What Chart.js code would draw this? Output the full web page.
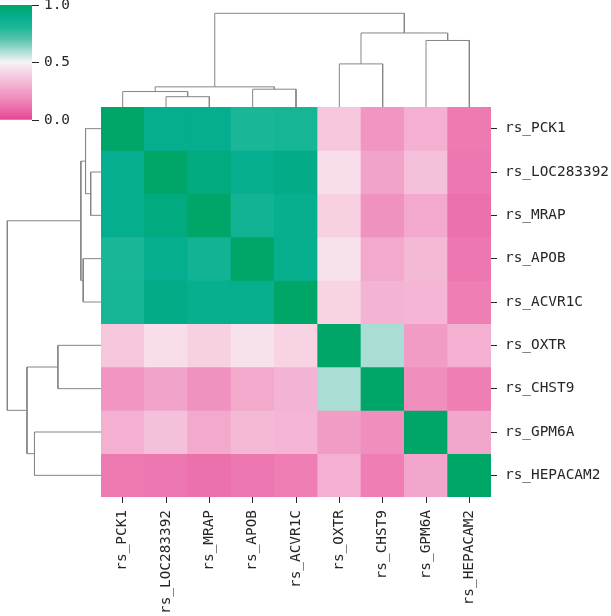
<!DOCTYPE html>
<html>
<head>
<meta charset="utf-8">
<script src="https://cdn.jsdelivr.net/npm/chart.js@4.4.1/dist/chart.umd.min.js"></script>
<style>
  html, body { margin: 0; padding: 0; background: #fff; }
  #wrap { position: relative; width: 611px; height: 616px; overflow: hidden; }
  #wrap canvas { position: absolute; }
</style>
</head>
<body>
<div id="wrap">
  <canvas id="cbar" width="90" height="132" style="left:0;top:0"></canvas>
  <canvas id="dendLeft" width="101" height="390" style="left:0;top:107px"></canvas>
  <canvas id="dendTop" width="390" height="107" style="left:101px;top:0"></canvas>
  <canvas id="heat" width="510" height="509" style="left:101px;top:107px"></canvas>
</div>
<script>
// leaf order after clustering (same for rows and columns)
const genes = ['rs_PCK1', 'rs_LOC283392', 'rs_MRAP', 'rs_APOB', 'rs_ACVR1C',
               'rs_OXTR', 'rs_CHST9', 'rs_GPM6A', 'rs_HEPACAM2'];

// correlation matrix, rows/cols in the order above
const corr = [
  [1.00, 0.90, 0.90, 0.82, 0.83, 0.37, 0.22, 0.30, 0.14],
  [0.90, 1.00, 0.94, 0.90, 0.92, 0.44, 0.26, 0.35, 0.13],
  [0.90, 0.94, 1.00, 0.85, 0.89, 0.40, 0.21, 0.28, 0.11],
  [0.82, 0.90, 0.85, 1.00, 0.89, 0.45, 0.28, 0.33, 0.13],
  [0.83, 0.92, 0.89, 0.89, 1.00, 0.41, 0.31, 0.32, 0.15],
  [0.37, 0.44, 0.40, 0.45, 0.41, 1.00, 0.60, 0.24, 0.30],
  [0.22, 0.26, 0.21, 0.28, 0.31, 0.60, 1.00, 0.20, 0.15],
  [0.30, 0.35, 0.28, 0.33, 0.32, 0.24, 0.20, 1.00, 0.27],
  [0.14, 0.13, 0.11, 0.13, 0.15, 0.30, 0.15, 0.27, 1.00]
];

// linkage: [left, right, distance]; ids >= 9 are earlier merges (9 + row)
const linkage = [
  [1, 2, 0.11],
  [0, 9, 0.165],
  [3, 4, 0.19],
  [10, 11, 0.215],
  [5, 6, 0.46],
  [7, 8, 0.71],
  [13, 14, 0.79],
  [12, 15, 1.00]
];

const cbarTicks = [0, 0.5, 1];

// colormap (pink - white - green)
const cmapPos = [0, 0.1, 0.2, 0.3, 0.4, 0.5, 0.6, 0.7, 0.8, 0.9, 1];
const cmapRGB = [
  [232, 68, 150], [236, 108, 170], [240, 143, 190], [243, 176, 208], [247, 208, 226],
  [246, 243, 245], [170, 221, 211], [90, 196, 172], [30, 184, 154], [4, 174, 142], [0, 166, 104]
];

function rgb(c) { return `rgb(${c.map(Math.round).join(',')})`; }

function cmap(v) {
  v = Math.max(0, Math.min(1, v));
  for (let i = 1; i < cmapPos.length; i++) {
    if (v <= cmapPos[i]) {
      const t = (v - cmapPos[i - 1]) / (cmapPos[i] - cmapPos[i - 1]);
      const a = cmapRGB[i - 1], b = cmapRGB[i];
      return rgb(a.map((x, k) => x + (b[k] - x) * t));
    }
  }
  return rgb(cmapRGB[cmapRGB.length - 1]);
}

const tickFont = { family: "'DejaVu Sans Mono', monospace", size: 14.4 };
const textColor = '#262626';
const lineColor = '#858585';

const base = {
  responsive: false,
  animation: false,
  events: [],
  plugins: { legend: { display: false }, tooltip: { enabled: false } }
};

// --- dendrogram links from the linkage table ---
function dendroLinks() {
  const nodes = genes.map((g, i) => ({ pos: i + 0.5, h: 0 }));
  const links = [];
  linkage.forEach(([a, b, d]) => {
    const na = nodes[a], nb = nodes[b];
    links.push([
      { pos: na.pos, h: na.h }, { pos: na.pos, h: d },
      { pos: nb.pos, h: d }, { pos: nb.pos, h: nb.h }
    ]);
    nodes.push({ pos: (na.pos + nb.pos) / 2, h: d });
  });
  return links;
}
const links = dendroLinks();
const rootH = linkage[linkage.length - 1][2];

function linkSets(horizontal) {
  return links.map(l => ({
    data: l.map(p => horizontal ? { x: p.h, y: p.pos } : { x: p.pos, y: p.h }),
    showLine: true,
    borderColor: lineColor,
    borderWidth: 1,
    pointRadius: 0,
    clip: false
  }));
}

new Chart(document.getElementById('dendTop'), {
  type: 'scatter',
  data: { datasets: linkSets(false) },
  options: Object.assign({}, base, {
    layout: { padding: 0 },
    scales: {
      x: { type: 'linear', min: 0, max: genes.length, display: false },
      y: { type: 'linear', min: 0, max: rootH * 107 / 93.7, display: false }
    }
  })
});

new Chart(document.getElementById('dendLeft'), {
  type: 'scatter',
  data: { datasets: linkSets(true) },
  options: Object.assign({}, base, {
    layout: { padding: 0 },
    scales: {
      x: { type: 'linear', min: 0, max: rootH * 101 / 93.7, reverse: true, display: false },
      y: { type: 'linear', min: 0, max: genes.length, reverse: true, display: false }
    }
  })
});

// --- heatmap: one floating bar per cell ---
const tickGrid = { display: true, drawOnChartArea: false, drawTicks: true, tickLength: 6, offset: false, color: textColor, lineWidth: 1 };

new Chart(document.getElementById('heat'), {
  type: 'bar',
  data: {
    labels: genes,
    datasets: genes.map((g, r) => ({
      label: g,
      data: genes.map(() => [r, r + 1]),
      backgroundColor: corr[r].map(cmap),
      borderWidth: 0,
      barPercentage: 1,
      categoryPercentage: 1,
      grouped: false,
      yAxisID: 'y'
    }))
  },
  options: Object.assign({}, base, {
    layout: { padding: 0 },
    scales: {
      x: {
        type: 'category', offset: true, position: 'bottom',
        grid: tickGrid, border: { display: false },
        ticks: { minRotation: 90, maxRotation: 90, autoSkip: false, padding: 7, font: tickFont, color: textColor },
        afterFit: s => { s.height = 119; s.paddingLeft = 0; s.paddingRight = 0; }
      },
      y: { type: 'linear', min: 0, max: genes.length, reverse: true, display: false },
      yl: {
        type: 'category', labels: genes, position: 'right', offset: true,
        grid: tickGrid, border: { display: false },
        ticks: { autoSkip: false, padding: 8, font: tickFont, color: textColor },
        afterFit: s => { s.width = 120; s.paddingTop = 0; s.paddingBottom = 0; }
      }
    }
  })
});

// --- colorbar ---
function cbarFill(ctx) {
  const chart = ctx.chart;
  const a = chart.chartArea;
  if (!a) return null;
  const g = chart.ctx.createLinearGradient(0, a.bottom, 0, a.top);
  cmapPos.forEach((p, i) => g.addColorStop(p, rgb(cmapRGB[i])));
  return g;
}

new Chart(document.getElementById('cbar'), {
  type: 'bar',
  data: {
    labels: [''],
    datasets: [{
      data: [[cbarTicks[0], cbarTicks[cbarTicks.length - 1]]],
      backgroundColor: cbarFill,
      borderWidth: 0,
      barPercentage: 1,
      categoryPercentage: 1
    }]
  },
  options: Object.assign({}, base, {
    layout: { padding: { top: 5, bottom: 12, left: 0, right: 0 } },
    scales: {
      x: { display: false },
      y: {
        position: 'right', min: cbarTicks[0], max: cbarTicks[cbarTicks.length - 1],
        grid: Object.assign({}, tickGrid, { tickLength: 7 }), border: { display: false },
        afterBuildTicks: s => { s.ticks = cbarTicks.map(v => ({ value: v })); },
        ticks: { callback: v => Number(v).toFixed(1), padding: 5, font: tickFont, color: textColor },
        afterFit: s => { s.width = 58; s.paddingTop = 0; s.paddingBottom = 0; }
      }
    }
  })
});
</script>
</body>
</html>
